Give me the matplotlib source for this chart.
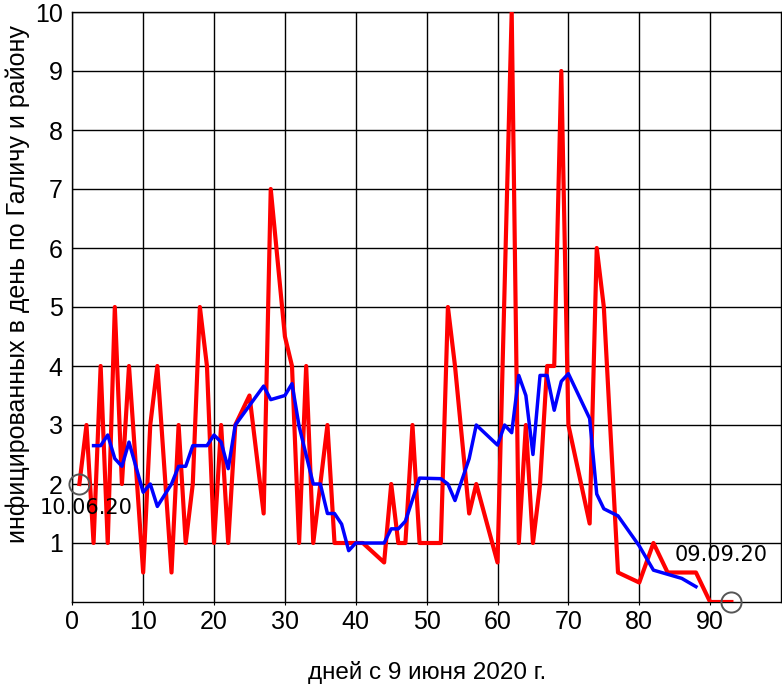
import matplotlib
matplotlib.use("Agg")
import matplotlib.pyplot as plt

# Daily new infections (red)
days = [1, 2, 3, 4, 5, 6, 7, 8, 10, 11, 12, 14, 15, 16, 17, 18, 19, 20, 21, 22, 23, 25,
        27, 28, 30, 31, 32, 33, 34, 36, 37, 41, 44, 45, 46, 47, 48, 49, 52, 53, 54, 56,
        57, 60, 62, 63, 64, 65, 66, 67, 68, 69, 70, 73, 74, 75, 77, 80, 82, 84, 88, 90, 93]
cases = [2, 3, 1, 4, 1, 5, 2, 4, 0.5, 3, 4, 0.5, 3, 1, 2, 5, 4, 1, 3, 1, 3, 3.5,
         1.5, 7, 4.5, 4, 1, 4, 1, 3, 1, 1, 0.67, 2, 1, 1, 3, 1, 1, 5, 4, 1.5,
         2, 0.67, 10, 1, 3, 1, 2, 4, 4, 9, 3, 1.33, 6, 5, 0.5, 0.33, 1, 0.5, 0.5, 0, 0]

# Moving average (blue)
avg_days = [3, 4, 5, 6, 7, 8, 10, 11, 12, 14, 15, 16, 17, 19, 20, 21, 22, 23, 27, 28,
            30, 31, 32, 34, 35, 36, 37, 38, 39, 40, 44, 45, 46, 47, 49, 52, 53, 54, 56,
            57, 60, 61, 62, 63, 64, 65, 66, 67, 68, 69, 70, 73, 74, 75, 77, 80, 82, 84,
            86, 88]
avg = [2.65, 2.65, 2.83, 2.43, 2.3, 2.71, 1.86, 2.0, 1.62, 2.0, 2.3, 2.3, 2.65, 2.65,
       2.83, 2.71, 2.26, 3.0, 3.66, 3.43, 3.5, 3.7, 2.98, 2.0, 2.0, 1.5, 1.5, 1.32, 0.87,
       1.0, 1.0, 1.24, 1.24, 1.37, 2.1, 2.09, 2.0, 1.72, 2.43, 3.0, 2.66, 3.0, 2.87, 3.84,
       3.5, 2.5, 3.84, 3.84, 3.25, 3.74, 3.87, 3.11, 1.83, 1.58, 1.46, 0.95, 0.54, 0.47,
       0.40, 0.26]

# Marked dates
mark_days = [1, 93]
mark_vals = [2, 0]
mark_labels = ["10.06.20", "09.09.20"]
label_pos = [(2.0, 1.59), (91.6, 0.80)]

xticks = [0, 10, 20, 30, 40, 50, 60, 70, 80, 90]
yticks = [1, 2, 3, 4, 5, 6, 7, 8, 9, 10]

W, H = 782, 688
fig = plt.figure(figsize=(W / 100, H / 100), dpi=100)
ax = fig.add_axes([72.3 / W, 1 - 602 / H, (781 - 72.3) / W, (602 - 12) / H])

ax.plot(days, cases, color="#ff0000", lw=3.0, zorder=3)
ax.plot(avg_days, avg, color="#0000ff", lw=2.5, zorder=4)
ax.plot(mark_days, mark_vals, linestyle="none", marker="o", markersize=14.5,
        markerfacecolor="none", markeredgecolor="#555555", markeredgewidth=1.4,
        zorder=5, clip_on=False)
for txt, (tx, ty) in zip(mark_labels, label_pos):
    ax.text(tx, ty, txt, ha="center", va="center", fontsize=15,
            family="DejaVu Sans", color="black", zorder=6)

ax.set_xlim(0, 100)
ax.set_ylim(0, 10)
ax.set_xticks(xticks)
ax.set_yticks(yticks)
ax.grid(True, color="black", lw=1.0)
ax.set_axisbelow(True)
for s in ax.spines.values():
    s.set_color("black")
    s.set_linewidth(1.0)

tick_font = dict(family="Liberation Sans", size=18)
ax.set_xticklabels([str(t) for t in xticks], **tick_font)
ax.set_yticklabels([str(t) for t in yticks], **tick_font)
ax.tick_params(axis="x", length=2, pad=4)
ax.tick_params(axis="y", length=0, pad=7)

ax.set_xlabel("дней с 9 июня 2020 г.", family="Liberation Sans", fontsize=17.5,
              va="center")
ax.xaxis.set_label_coords(0.5, (602 - 673) / 590)
ax.set_ylabel("инфицированных в день по Галичу и району", family="Liberation Sans",
              fontsize=18, va="center")
ax.yaxis.set_label_coords((18 - 72.3) / 708.7, (602 - 284) / 590)

fig.savefig("out.png", dpi=100)
